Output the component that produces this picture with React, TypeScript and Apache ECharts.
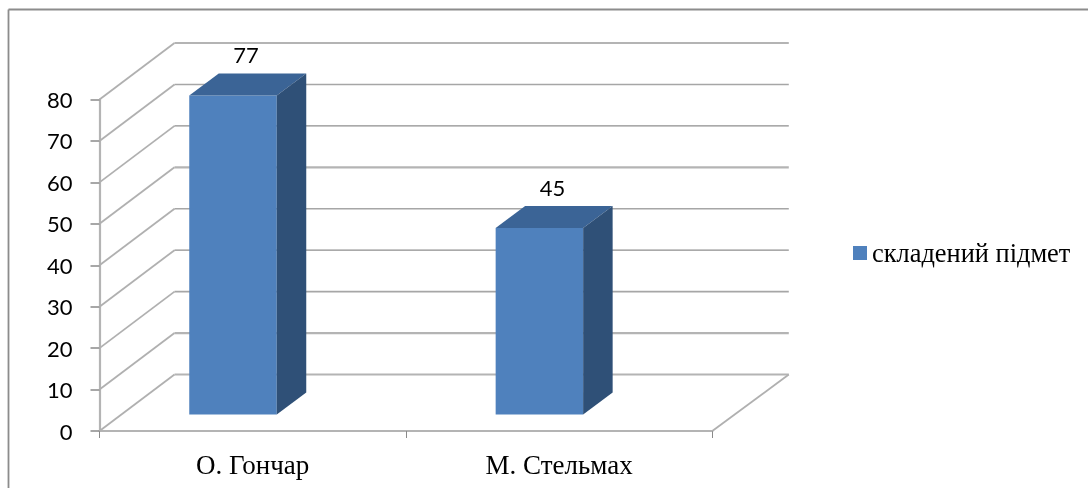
import React, { useEffect, useRef } from "react";
import * as echarts from "echarts";

const categories = ["О. Гончар", "М. Стельмах"];
const seriesName = "складений підмет";
const values = [77, 45];
const gridValues = [0, 10, 20, 30, 40, 50, 60, 70, 80];

const DEPTH_X = 75;
const DEPTH_Y = 56.5;
const RIGHT_EXT = 1.5;
const BAR_W = 87.5;
const BAR_DX = 29.5;
const BAR_DY = 22;
const BAR_LIFT = 16.5;
const BAR_SHIFT = -19.7;

// the reference's resampling leaves the wall lines uneven: thin and dark, or wide and pale
const gridLook = (v: number) => {
  if (v === 30 || v === 60) return { stroke: "#8e8e8e", lineWidth: 1.2 };
  if (v === 20 || v === 40 || v === 70) return { stroke: "#a6a6a6", lineWidth: 1.6 };
  return { stroke: "#b4b4b4", lineWidth: 2.2 };
};

export default function App() {
  const ref = useRef<HTMLDivElement>(null);
  useEffect(() => {
    const chart = echarts.init(ref.current!, undefined, { renderer: "svg" });
    chart.setOption({
      animation: false,
      backgroundColor: "#ffffff",
      grid: { left: 99.5, top: 99.5, width: 612.8, height: 331.5, containLabel: false },
      graphic: [
        { type: "line", shape: { x1: 8.5, y1: 9.5, x2: 8.5, y2: 488 }, style: { stroke: "#8c8c8c", lineWidth: 1.8 } },
        { type: "line", shape: { x1: 8.5, y1: 9.5, x2: 1088, y2: 9.5 }, style: { stroke: "#8c8c8c", lineWidth: 1.8 } },
      ],
      legend: {
        left: 853,
        top: 240,
        padding: 0,
        itemWidth: 14,
        itemHeight: 14,
        itemGap: 5,
        icon: "rect",
        data: [seriesName],
        textStyle: { fontFamily: "Liberation Serif", fontSize: 26.4, color: "#000" },
      },
      xAxis: {
        type: "category",
        data: categories,
        axisLine: { lineStyle: { color: "#b4b4b4", width: 2.2 } },
        axisTick: { show: true, alignWithLabel: false, length: 7, lineStyle: { color: "#8a8a8a", width: 1 } },
        axisLabel: { fontFamily: "Liberation Serif", fontSize: 27, color: "#000", margin: 20.5 },
      },
      yAxis: {
        type: "value",
        min: 0,
        max: 80,
        interval: 10,
        splitLine: { show: false },
        axisLine: { show: true, lineStyle: { color: "#b4b4b4", width: 2.2 } },
        axisTick: { show: true, length: 9, lineStyle: { color: "#8a8a8a", width: 1.5 } },
        axisLabel: { fontFamily: "Lato", fontSize: 22, color: "#000", margin: 27 },
      },
      series: [
        {
          type: "custom",
          silent: true,
          z: 1,
          legendHoverLink: false,
          data: gridValues.map((v) => [0, v]),
          renderItem: (params: any, api: any) => {
            const v = api.value(1);
            const p = api.coord([0, v]);
            const cs = params.coordSys;
            const x0 = cs.x;
            const x1 = cs.x + cs.width;
            const y = p[1];
            const pts: number[][] = [[x0, y], [x0 + DEPTH_X, y - DEPTH_Y], [x1 + DEPTH_X + RIGHT_EXT, y - DEPTH_Y]];
            if (v === 0) pts.push([x1, y]);
            return {
              type: "group",
              children: [
                {
                  type: "polyline",
                  shape: { points: pts.slice(0, 2) },
                  style: { fill: "none", stroke: "#b0b0b0", lineWidth: 1.8 },
                },
                {
                  type: "polyline",
                  shape: { points: pts.slice(1, 3) },
                  style: { fill: "none", ...gridLook(v) },
                },
                ...(v === 0
                  ? [{
                      type: "polyline",
                      shape: { points: pts.slice(2) },
                      style: { fill: "none", stroke: "#b0b0b0", lineWidth: 1.8 },
                    }]
                  : []),
              ],
            };
          },
        },
        {
          type: "custom",
          name: seriesName,
          z: 5,
          itemStyle: { color: "#4f81bd" },
          data: values.map((v, i) => [i, v]),
          renderItem: (_params: any, api: any) => {
            const i = api.value(0);
            const v = api.value(1);
            const top = api.coord([i, v]);
            const base = api.coord([i, 0]);
            const l = top[0] + BAR_SHIFT - BAR_W / 2;
            const r = l + BAR_W;
            const t = top[1] - BAR_LIFT;
            const b = base[1] - BAR_LIFT;
            return {
              type: "group",
              children: [
                { type: "rect", shape: { x: l, y: t, width: BAR_W, height: b - t }, style: { fill: "#4f81bd" } },
                {
                  type: "polygon",
                  shape: { points: [[l, t], [l + BAR_DX, t - BAR_DY], [r + BAR_DX, t - BAR_DY], [r, t]] },
                  style: { fill: "#3b6496" },
                },
                {
                  type: "polygon",
                  shape: { points: [[r, t], [r + BAR_DX, t - BAR_DY], [r + BAR_DX, b - BAR_DY], [r, b]] },
                  style: { fill: "#2f5077" },
                },
                {
                  type: "text",
                  style: {
                    text: String(v),
                    x: (l + r) / 2 + 13,
                    y: t - 41,
                    align: "center",
                    verticalAlign: "middle",
                    fontFamily: "Lato",
                    fontSize: 22,
                    fill: "#000",
                  },
                },
              ],
            };
          },
        },
      ],
    });
    return () => chart.dispose();
  }, []);
  return (
    <div
      ref={ref}
      style={{ position: "absolute", left: 0, top: 0, width: 1088, height: 488, filter: "blur(0.3px)" }}
    />
  );
}
